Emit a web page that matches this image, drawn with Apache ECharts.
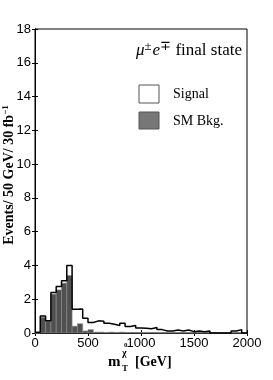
<!DOCTYPE html>
<html>
<head>
<meta charset="utf-8">
<script src="https://cdn.jsdelivr.net/npm/echarts@6/dist/echarts.min.js"></script>
<style>
html,body{margin:0;padding:0;background:#fff;}
#c{width:273px;height:380px;}
</style>
</head>
<body>
<div id="c"></div>
<script>
// Bin edges: 50 GeV bins from 0 to 2000
var binWidth = 50;
var binStarts = [0,50,100,150,200,250,300,350,400,450,500,550,600,650,700,750,800,850,900,950,
                 1000,1050,1100,1150,1200,1250,1300,1350,1400,1450,1500,1550,1600,1650,1700,1750,1800,1850,1900,1950];
// Signal + background (outline), events per bin
var signalTotal = [0.05,1.0,0.72,2.4,2.75,3.1,4.0,1.4,1.42,0.88,0.62,0.72,0.7,0.58,0.52,0.45,0.58,0.38,0.45,0.3,
                   0.28,0.25,0.32,0.2,0.12,0.12,0.18,0.12,0.18,0.08,0.12,0.08,0.12,0,0,0,0,0.12,0.2,0];
// SM background (filled)
var smBkg = [0,0.93,0.7,2.3,2.55,2.95,3.4,0.4,0.55,0.12,0.2,0.05,0.05,0.03,0.05,0.03,0.05,0.03,0.03,0.03,
             0.03,0.03,0.03,0.02,0.02,0.02,0.02,0.02,0.02,0.02,0.02,0.02,0.02,0.02,0.02,0.02,0.02,0.02,0.02,0.02];
var xTicks = [0,500,1000,1500,2000];
var yTicks = [0,2,4,6,8,10,12,14,16,18];

var bkgData = binStarts.map(function(s,i){return [s, s+binWidth, smBkg[i]];});
var outline = [];
binStarts.forEach(function(s,i){
  outline.push([s, signalTotal[i]]);
  outline.push([s+binWidth, signalTotal[i]]);
});

var chart = echarts.init(document.getElementById('c'), null, {renderer:'canvas'});
var tickFont = {fontFamily:'Liberation Sans, Arial, sans-serif', fontSize:13, color:'#000'};
var serif = 'Liberation Serif, Times New Roman, serif';
function plain(v){return String(v);}

chart.setOption({
  animation:false,
  backgroundColor:'#fff',
  grid:{left:35,right:26,top:29,bottom:47,show:true,borderColor:'#000',borderWidth:1,backgroundColor:'transparent'},
  xAxis:[{
    type:'value',min:xTicks[0],max:xTicks[xTicks.length-1],interval:500,
    axisLine:{show:true,lineStyle:{color:'#000',width:1}},
    axisTick:{show:true,inside:true,length:3,lineStyle:{color:'#000'}},
    axisLabel:Object.assign({margin:4,formatter:plain},tickFont),
    splitLine:{show:false}
  },{
    type:'value',position:'top',min:xTicks[0],max:xTicks[xTicks.length-1],interval:500,
    axisLine:{show:true,lineStyle:{color:'#000',width:1}},
    axisTick:{show:true,inside:true,length:3,lineStyle:{color:'#000'}},
    axisLabel:{show:false},splitLine:{show:false}
  }],
  yAxis:[{
    type:'value',min:yTicks[0],max:yTicks[yTicks.length-1],interval:2,
    axisLine:{show:true,lineStyle:{color:'#000',width:1}},
    axisTick:{show:true,inside:true,length:3,lineStyle:{color:'#000'}},
    axisLabel:Object.assign({margin:4,formatter:plain},tickFont),
    splitLine:{show:false}
  },{
    type:'value',position:'right',min:yTicks[0],max:yTicks[yTicks.length-1],interval:2,
    axisLine:{show:true,lineStyle:{color:'#000',width:1}},
    axisTick:{show:true,inside:true,length:3,lineStyle:{color:'#000'}},
    axisLabel:{show:false},splitLine:{show:false}
  }],
  series:[{
    type:'custom',
    data:bkgData,
    encode:{x:[0,1],y:2},
    renderItem:function(params,api){
      var p0 = api.coord([api.value(0),0]);
      var p1 = api.coord([api.value(1),api.value(2)]);
      return {type:'rect',shape:{x:p0[0],y:p1[1],width:p1[0]-p0[0],height:p0[1]-p1[1]},
        style:{fill:'#505050',stroke:'#8a8a8a',lineWidth:0.6}};
    },
    z:2
  },{
    type:'line',
    data:outline,
    showSymbol:false,
    symbol:'none',
    lineStyle:{color:'#000',width:1.5},
    z:3
  }],
  graphic:[
    {type:'text',x:242,y:51,style:{
      text:'{i|μ}{s|±}{i|e}{s|∓} {r|final state}',
      align:'right',verticalAlign:'middle',
      rich:{
        i:{fontFamily:serif,fontStyle:'italic',fontSize:17,fill:'#000'},
        s:{fontFamily:serif,fontSize:13,fill:'#000',padding:[0,1,9,0]},
        r:{fontFamily:serif,fontSize:17,fill:'#000'}
      }}},
    {type:'rect',shape:{x:139,y:85,width:20,height:18},style:{fill:'#fff',stroke:'#555',lineWidth:1}},
    {type:'rect',shape:{x:139,y:112,width:20,height:17},style:{fill:'#777',stroke:'#555',lineWidth:1}},
    {type:'text',x:173,y:94,style:{text:'Signal',fontFamily:serif,fontSize:14,fill:'#000',verticalAlign:'middle'}},
    {type:'text',x:173,y:121,style:{text:'SM Bkg.',fontFamily:serif,fontSize:14,fill:'#000',verticalAlign:'middle'}},
    {type:'text',x:9,y:175,rotation:Math.PI/2,style:{
      text:'{b|Events/ 50 GeV/ 30 fb}{s|−1}',align:'center',verticalAlign:'middle',
      rich:{b:{fontFamily:serif,fontWeight:'bold',fontSize:14,fill:'#000'},
            s:{fontFamily:serif,fontWeight:'bold',fontSize:9,fill:'#000',padding:[0,0,7,0]}}}},
    {type:'text',x:108,y:362,style:{text:'m',fontFamily:serif,fontWeight:'bold',fontSize:15,fill:'#000',verticalAlign:'middle'}},
    {type:'text',x:122,y:369,style:{text:'T',fontFamily:serif,fontWeight:'bold',fontSize:9,fill:'#000',verticalAlign:'middle'}},
    {type:'text',x:122,y:353,style:{text:'χ',fontFamily:serif,fontWeight:'bold',fontSize:10,fill:'#000',verticalAlign:'middle'}},
    {type:'text',x:124,y:345,style:{text:'0',fontFamily:serif,fontWeight:'bold',fontSize:7,fill:'#000',verticalAlign:'middle'}},
    {type:'text',x:135,y:362,style:{text:'[GeV]',fontFamily:serif,fontWeight:'bold',fontSize:14,fill:'#000',verticalAlign:'middle'}}
  ]
});
</script>
</body>
</html>
